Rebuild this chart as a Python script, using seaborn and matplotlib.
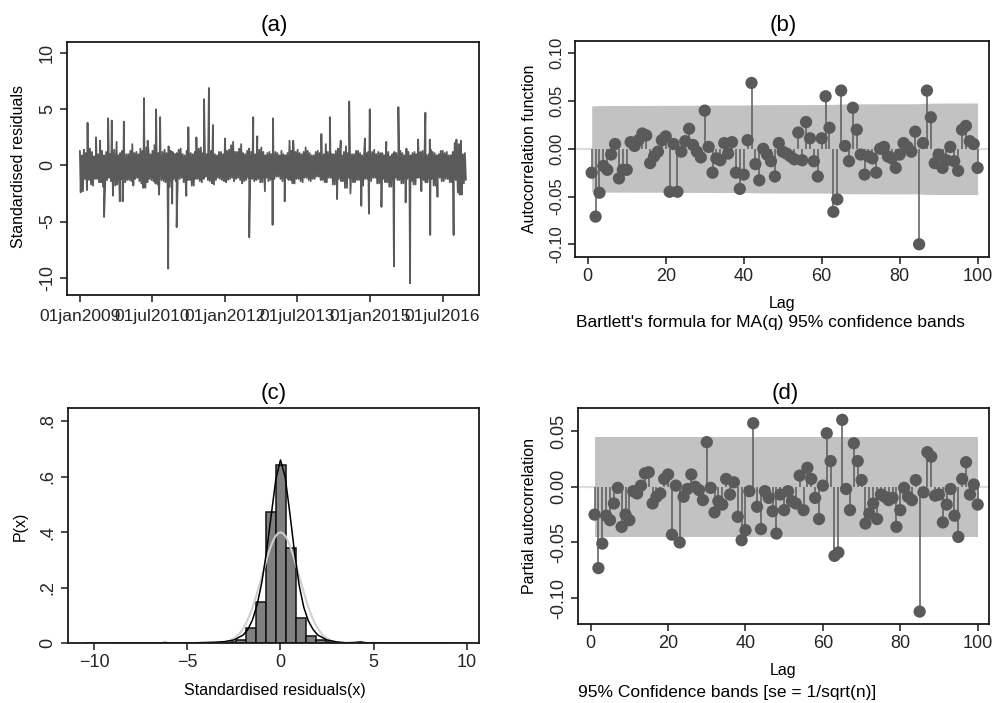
import numpy as np
import pandas as pd
import matplotlib
matplotlib.use('Agg')
import matplotlib.pyplot as plt
import seaborn as sns

# ---- (a) standardised residuals ----
# half-month upper / lower edge of the dense band (from 01jan2009)
start_date = '2009-01-01'
noise_hi = [1.3, 0.9, 1.4, 1.1, 1.0, 1.5, 1.2, 0.8, 1.5, 1.0, 1.1, 1.3, 0.9, 1.2, 1.3, 1.0, 1.0, 1.4, 1.2, 0.9, 1.1, 1.3, 0.8, 1.0,
            1.0, 1.3, 1.9, 1.1, 1.2, 1.0, 1.5, 1.3, 1.1, 1.6, 1.4, 1.0, 1.3, 1.8, 1.6, 1.1, 1.0, 1.2, 1.4, 1.1, 1.7, 1.3, 1.2, 1.0,
            1.1, 1.4, 1.5, 1.0, 0.9, 1.3, 1.3, 1.1, 1.0, 1.2, 1.2, 1.5, 1.6, 1.1, 1.4, 1.0, 1.1, 1.3, 1.5, 1.0, 0.9, 1.2, 1.2, 1.0,
            2.3, 1.3, 1.4, 1.8, 2.1, 1.2, 1.2, 1.5, 1.9, 1.1, 1.0, 1.3, 1.5, 1.2, 1.3, 1.0, 1.1, 1.4, 1.6, 1.2, 0.9, 1.1, 1.2, 1.0,
            1.0, 1.2, 1.1, 0.9, 1.3, 1.0, 0.9, 1.1, 2.2, 1.3, 1.9, 1.2, 1.4, 1.1, 1.0, 1.2, 1.6, 1.3, 1.1, 0.9, 0.9, 1.2, 1.3, 1.1,
            1.1, 1.0, 1.9, 1.2, 1.2, 1.0, 1.0, 1.3, 1.5, 1.1, 0.9, 1.2, 1.7, 1.1, 1.2, 1.0, 1.0, 1.3, 1.3, 1.1, 0.9, 1.0, 1.1, 1.2,
            1.0, 1.2, 1.4, 1.0, 1.2, 1.1, 1.1, 0.9, 1.3, 1.2, 0.8, 1.0, 1.2, 1.1, 1.0, 1.3, 1.1, 0.9, 1.5, 1.2, 0.9, 1.1, 1.2, 1.0,
            1.0, 1.2, 1.3, 1.1, 0.9, 1.0, 1.4, 1.2, 1.1, 0.9, 1.0, 1.3, 1.3, 1.1, 1.2, 0.9, 0.9, 1.2, 1.4, 1.0, 1.9, 2.2, 1.0, 1.1]
noise_lo = [-1.6, -2.3, -1.2, -2.2, -1.3, -1.7, -1.8, -1.2, -1.2, -1.5, -1.5, -1.9, -1.9, -1.3, -1.1, -1.4, -1.4, -1.8, -1.7, -1.2, -1.2, -1.6, -1.5, -1.3,
            -1.3, -1.4, -1.8, -1.2, -1.1, -1.4, -1.6, -2.0, -2.0, -1.5, -1.2, -1.3, -1.4, -1.6, -1.7, -1.3, -1.3, -1.4, -1.5, -1.8, -1.9, -1.2, -1.2, -1.4,
            -1.4, -1.2, -1.1, -1.5, -1.6, -1.3, -1.3, -1.8, -1.8, -1.2, -1.2, -1.4, -1.5, -1.2, -1.0, -1.3, -1.4, -1.6, -1.7, -1.3, -1.1, -1.2, -1.3, -1.4,
            -1.5, -1.3, -1.2, -1.1, -1.4, -1.2, -1.1, -1.3, -1.6, -1.4, -1.3, -1.1, -1.0, -1.2, -1.4, -1.3, -1.2, -1.5, -1.5, -1.1, -1.1, -1.4, -1.3, -1.2,
            -1.2, -1.0, -1.0, -1.2, -1.4, -1.1, -1.1, -1.3, -1.3, -1.6, -1.6, -1.2, -1.2, -1.4, -1.5, -1.1, -1.1, -1.3, -1.4, -1.2, -1.2, -1.0, -1.0, -1.3,
            -1.3, -1.5, -1.5, -1.1, -1.1, -1.7, -1.7, -1.2, -1.2, -1.4, -1.4, -2.0, -2.0, -1.1, -1.1, -1.5, -1.5, -1.3, -1.3, -1.8, -1.8, -1.2, -1.2, -1.4,
            -1.4, -1.1, -1.1, -1.6, -1.6, -1.2, -1.2, -1.5, -1.5, -1.9, -1.9, -1.1, -1.1, -1.3, -1.3, -1.6, -1.6, -1.2, -1.2, -1.4, -1.4, -1.7, -1.7, -1.1,
            -1.1, -1.3, -1.3, -1.5, -1.5, -1.2, -1.2, -1.8, -1.8, -1.1, -1.1, -1.4, -1.4, -1.2, -1.2, -1.5, -1.5, -1.3, -1.3, -2.4, -2.4, -1.6, -1.6, -1.3]
spike_month = [1.9, 4.0, 5.0, 7.0, 7.9, 9.1, 10.9, 15.9, 16.8, 18.9, 19.9, 26.9,
               28.9, 30.8, 32.0, 33.0, 36.0, 43.0, 44.0, 47.9, 52.9, 59.9, 62.0,
               64.7, 66.8, 70.7, 71.9, 76.0, 79.0, 83.9, 85.7, 86.8, 93.0, 93.4,
               0.2, 6.0, 8.2, 9.9, 10.6, 19.6, 21.9, 22.9, 24.0, 26.4, 42.0, 45.9,
               47.8, 50.8, 63.8, 67.1, 69.8, 71.7, 74.8, 77.9, 80.8, 81.9, 84.7,
               86.9, 88.7, 92.7, 94.2, 94.7]
spike_value = [3.8, 2.5, 2.2, 4.2, 4.0, 2.1, 3.9, 6.0, 2.2, 5.0, 4.3, 3.4,
               2.5, 5.9, 6.9, 3.6, 2.4, 4.3, 2.6, 4.2, 2.2, 2.8, 4.3,
               2.2, 5.7, 2.4, 5.0, 2.1, 5.2, 2.3, 4.7, 2.3, 2.0, 2.3,
               -2.4, -4.6, -2.7, -3.2, -3.2, -2.6, -9.2, -3.4, -5.5, -2.7, -6.4, -2.3,
               -5.3, -3.2, -3.0, -2.5, -3.6, -4.3, -3.7, -9.0, -3.3, -10.5, -2.3,
               -6.2, -2.8, -6.2, -2.6, -2.6]
date_ticks = ['2009-01-01', '2010-07-01', '2012-01-01',
              '2013-07-01', '2015-01-01', '2016-07-01']

# ---- (b) autocorrelations, lags 1-100 ----
acf = [-0.025, -0.071, -0.046, -0.018, -0.022, -0.006, 0.005, -0.031, -0.022, -0.022,
       0.007, 0.003, 0.009, 0.016, 0.014, -0.015, -0.008, -0.003, 0.009, 0.013,
       -0.045, 0.005, -0.045, -0.003, 0.008, 0.021, 0.004, -0.003, -0.009, 0.040,
       0.002, -0.025, -0.010, -0.012, 0.006, -0.005, 0.007, -0.025, -0.042, -0.027,
       0.009, 0.069, -0.016, -0.033, 0.000, -0.006, -0.013, -0.029, 0.006, -0.003,
       -0.005, -0.008, -0.011, 0.017, -0.012, 0.028, 0.011, -0.013, -0.029, 0.011,
       0.055, 0.022, -0.066, -0.053, 0.061, 0.003, -0.013, 0.043, 0.020, -0.006,
       -0.027, -0.008, -0.010, -0.025, 0.000, 0.002, -0.008, -0.010, -0.020, -0.006,
       0.006, 0.002, -0.003, 0.018, -0.100, 0.006, 0.061, 0.033, -0.015, -0.006,
       -0.020, -0.012, 0.002, -0.013, -0.023, 0.020, 0.024, 0.008, 0.005, -0.020]

# ---- (d) partial autocorrelations, lags 1-100 ----
pacf = [-0.025, -0.073, -0.051, -0.026, -0.030, -0.015, -0.001, -0.036, -0.025, -0.030,
        -0.004, -0.006, 0.001, 0.012, 0.013, -0.015, -0.009, -0.006, 0.007, 0.011,
        -0.043, 0.001, -0.050, -0.009, -0.002, 0.011, 0.000, -0.003, -0.012, 0.040,
        -0.001, -0.023, -0.013, -0.016, 0.007, -0.007, 0.004, -0.027, -0.048, -0.039,
        -0.004, 0.057, -0.018, -0.038, -0.004, -0.010, -0.022, -0.042, -0.007, -0.021,
        -0.004, -0.013, -0.015, 0.010, -0.021, 0.017, 0.007, -0.010, -0.029, 0.001,
        0.048, 0.023, -0.062, -0.059, 0.060, -0.002, -0.021, 0.039, 0.023, 0.006,
        -0.033, -0.024, -0.015, -0.029, -0.007, -0.009, -0.012, -0.010, -0.036, -0.021,
        -0.001, -0.009, -0.012, 0.006, -0.112, -0.005, 0.031, 0.027, -0.008, -0.007,
        -0.032, -0.016, -0.002, -0.026, -0.045, 0.007, 0.022, -0.007, 0.002, -0.016]
n_obs = 1900  # gives the +-0.045 band seen in (d)

# ---- (c) histogram + kernel density ----
hist_edges = [-2.94, -2.40, -1.86, -1.32, -0.78, -0.24, 0.30, 0.84, 1.38, 1.92, 2.46, 3.00]
hist_heights = [0.004, 0.012, 0.054, 0.148, 0.474, 0.642, 0.344, 0.092, 0.028, 0.012, 0.004]
kde_x = [-10.5, -8.0, -6.5, -6.2, -5.9, -4.5, -3.5, -3.0, -2.5, -2.0, -1.75, -1.5, -1.25,
         -1.0, -0.75, -0.5, -0.25, 0.0, 0.25, 0.5, 0.75, 1.0, 1.25, 1.5, 1.75, 2.0,
         2.5, 3.0, 3.5, 4.0, 4.3, 4.6, 6.0, 10.0]
kde_y = [0.0, 0.0005, 0.001, 0.003, 0.001, 0.002, 0.004, 0.006, 0.012, 0.03, 0.05, 0.085, 0.14,
         0.22, 0.33, 0.46, 0.59, 0.66, 0.60, 0.47, 0.33, 0.21, 0.13, 0.08, 0.05, 0.03,
         0.012, 0.005, 0.002, 0.003, 0.005, 0.002, 0.001, 0.0]

DARK = '#5a5a5a'
BAND = '#c2c2c2'

sns.set_theme(style='white')
plt.rcParams['font.family'] = ['Liberation Sans', 'DejaVu Sans']
plt.rcParams['axes.edgecolor'] = '#1a1a1a'
plt.rcParams['axes.linewidth'] = 1.3

W, H = 1002, 703
fig = plt.figure(figsize=(W / 100, H / 100), dpi=100)


def box(l, t, r, b):
    return [l / W, 1 - b / H, (r - l) / W, (b - t) / H]


def ftext(x, y, s, **kw):
    fig.text(x / W, 1 - y / H, s, color='black', **kw)


def style_ticks(ax, size=13):
    ax.tick_params(direction='out', length=5, width=1.1, color='#1a1a1a',
                   labelsize=size, pad=3, bottom=True, left=True)


# ---------------- (a) ----------------
ax = fig.add_axes(box(67, 42, 479, 295))
t0 = pd.Timestamp(start_date)
rows = []
for i, (hi, lo) in enumerate(zip(noise_hi, noise_lo)):
    rows.append((i / 2, hi))
    rows.append((i / 2 + 0.25, lo))
rows += list(zip(spike_month, spike_value))
ts = pd.DataFrame(rows, columns=['month', 'resid']).sort_values('month')
ts['date'] = t0 + pd.to_timedelta(ts['month'] * 30.4375, unit='D')
sns.lineplot(data=ts, x='date', y='resid', sort=False, estimator=None,
             color=DARK, lw=1.3, ax=ax)
ax.set_xlim(t0 + pd.Timedelta(days=-3.2 * 30.4375), t0 + pd.Timedelta(days=99 * 30.4375))
ax.set_ylim(-11.55, 11.0)
ax.set_yticks([-10, -5, 0, 5, 10])
ax.set_yticklabels(['-10', '-5', '0', '5', '10'], rotation=90, va='center')
tick_ts = pd.to_datetime(date_ticks)
ax.set_xticks(tick_ts)
ax.set_xticklabels([d.strftime('%d%b%Y').lower() for d in tick_ts])
ax.set_xlabel('')
ax.set_ylabel('')
style_ticks(ax)
ax.tick_params(axis='x', labelsize=12.5, pad=5)
ftext(274, 25, '(a)', fontsize=16, ha='center', va='center')
ftext(19, 166, 'Standardised residuals', fontsize=11.5, rotation=90, ha='center', va='center')


# ---------------- (b) and (d) ----------------
def stem_panel(rect, vals, band, ylim, yticks, tick_size):
    ax = fig.add_axes(rect)
    lags = np.arange(1, len(vals) + 1)
    ax.axhline(0, color='#dedede', lw=1.6, zorder=0)
    ax.fill_between(lags, -np.asarray(band), band, color=BAND, lw=0, zorder=1)
    ax.vlines(lags, 0, vals, color=DARK, lw=1.1, zorder=2)
    sns.scatterplot(x=lags, y=vals, color=DARK, s=78, edgecolor='none', ax=ax, zorder=3)
    ax.set_xlim(-3.2, 103)
    ax.set_ylim(*ylim)
    ax.set_xticks([0, 20, 40, 60, 80, 100])
    ax.set_yticks(yticks)
    ax.set_yticklabels([f'{v:.2f}' for v in yticks], rotation=90, va='center')
    style_ticks(ax)
    ax.tick_params(axis='y', labelsize=tick_size)
    return ax


acf_arr = np.asarray(acf)
cum = np.concatenate([[0.0], np.cumsum(acf_arr[:-1] ** 2)])
bartlett = 1.96 * np.sqrt((1 + 2 * cum) / n_obs)
stem_panel(box(575.3, 41.3, 989.3, 256.7), acf, bartlett, (-0.113, 0.1126),
           [-0.10, -0.05, 0.00, 0.05, 0.10], 12)
ftext(783, 25, '(b)', fontsize=16, ha='center', va='center')
ftext(530, 149, 'Autocorrelation function', fontsize=11.5, rotation=90, ha='center', va='center')
ftext(782, 303, 'Lag', fontsize=11.5, ha='center', va='center')
ftext(576, 322, "Bartlett's formula for MA(q) 95% confidence bands", fontsize=12.5,
      ha='left', va='center')

se = np.full(len(pacf), 1.96 / np.sqrt(n_obs))
stem_panel(box(578.3, 407.7, 989.3, 624.3), pacf, se, (-0.1234, 0.0709),
           [-0.10, -0.05, 0.00, 0.05], 13)
ftext(785, 393, '(d)', fontsize=16, ha='center', va='center')
ftext(530, 516, 'Partial autocorrelation', fontsize=11.5, rotation=90, ha='center', va='center')
ftext(783, 671, 'Lag', fontsize=11.5, ha='center', va='center')
ftext(578, 693, '95% Confidence bands [se = 1/sqrt(n)]', fontsize=12.5, ha='left', va='center')

# ---------------- (c) ----------------
ax = fig.add_axes(box(67.7, 407.7, 479.3, 643.3))
centers = [(a + b) / 2 for a, b in zip(hist_edges[:-1], hist_edges[1:])]
sns.histplot(x=centers, weights=hist_heights, bins=hist_edges, stat='count',
             color='#7f7f7f', alpha=1, edgecolor='#111111', linewidth=1.1, ax=ax)
grid = np.linspace(-10.5, 10.5, 400)
sns.lineplot(x=grid, y=np.exp(-grid ** 2 / 2) / np.sqrt(2 * np.pi),
             color='#cfcfcf', lw=1.5, ax=ax)
sns.lineplot(x=kde_x, y=kde_y, color='black', lw=1.1, ax=ax)
ax.set_xlim(-11.43, 10.68)
ax.set_ylim(0, 0.848)
ax.set_xticks([-10, -5, 0, 5, 10])
ax.set_yticks([0, 0.2, 0.4, 0.6, 0.8])
ax.set_yticklabels(['0', '.2', '.4', '.6', '.8'], rotation=90, va='center')
ax.set_xlabel('')
ax.set_ylabel('')
style_ticks(ax)
ftext(274, 393, '(c)', fontsize=16, ha='center', va='center')
ftext(20, 526, 'P(x)', fontsize=11.5, rotation=90, ha='center', va='center')
ftext(274.5, 690, 'Standardised residuals(x)', fontsize=11.5, ha='center', va='center')

fig.savefig('out.png', dpi=100)
